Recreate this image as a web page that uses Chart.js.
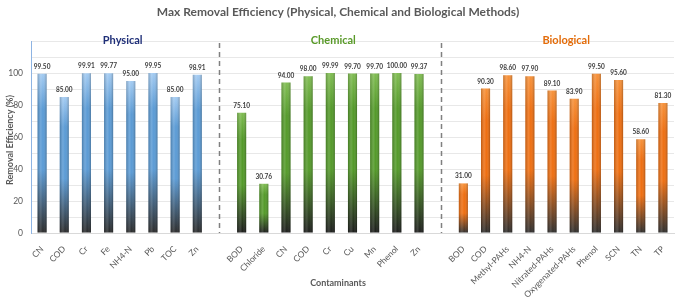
<!DOCTYPE html>
<html>
<head>
<meta charset="utf-8">
<script src="https://cdn.jsdelivr.net/npm/chart.js@4"></script>
<style>
  html, body { margin: 0; padding: 0; background: #fff; }
  #wrap { width: 676px; height: 297px; }
</style>
</head>
<body>
<div id="wrap"><canvas id="chart" width="676" height="297"></canvas></div>
<script>
// ---------------------------------------------------------------
// Data
// ---------------------------------------------------------------
const physicalLabels = ['CN', 'COD', 'Cr', 'Fe', 'NH4-N', 'Pb', 'TOC', 'Zn'];
const physicalValues = [99.50, 85.00, 99.91, 99.77, 95.00, 99.95, 85.00, 98.91];

const chemicalLabels = ['BOD', 'Chloride', 'CN', 'COD', 'Cr', 'Cu', 'Mn', 'Phenol', 'Zn'];
const chemicalValues = [75.10, 30.76, 94.00, 98.00, 99.99, 99.70, 99.70, 100.00, 99.37];

const biologicalLabels = ['BOD', 'COD', 'Methyl-PAHs', 'NH4-N', 'Nitrated-PAHs', 'Oxygenated-PAHs', 'Phenol', 'SCN', 'TN', 'TP'];
const biologicalValues = [31.00, 90.30, 98.60, 97.90, 89.10, 83.90, 99.50, 95.60, 58.60, 81.30];

const groupNames = ['Physical', 'Chemical', 'Biological'];
const yTicks = [0, 20, 40, 60, 80, 100];

// Colours per group: [light top, main, dark base], title colour.
const groupColors = [
  ['#a3cbf2', '#5b9bd5', '#2a2a2a'],
  ['#80bd52', '#549a2a', '#1c1c1c'],
  ['#f7923a', '#ee6f12', '#2e2e2e']
];
const groupTitleColors = ['#1f2f78', '#5a9a2a', '#e36c0a'];

// Combine the groups, with an empty slot between each group.
const labels = [];
const values = [];
const groupOf = [];
const separators = [];
[[physicalLabels, physicalValues], [chemicalLabels, chemicalValues], [biologicalLabels, biologicalValues]]
  .forEach(function (g, gi) {
    if (gi > 0) {
      separators.push(labels.length);
      labels.push('');
      values.push(null);
      groupOf.push(-1);
    }
    g[0].forEach(function (l, i) {
      labels.push(l);
      values.push(g[1][i]);
      groupOf.push(gi);
    });
  });

const FONT = 'Lato, "Open Sans", sans-serif';

function barColor(context) {
  const gi = groupOf[context.dataIndex];
  if (gi < 0) return 'transparent';
  const cols = groupColors[gi];
  const chart = context.chart;
  if (!chart.chartArea || !chart.scales.y) return cols[1];
  const ys = chart.scales.y;
  const top = ys.getPixelForValue(context.raw);
  const base = ys.getPixelForValue(0);
  const g = chart.ctx.createLinearGradient(0, top, 0, base);
  g.addColorStop(0, cols[0]);
  g.addColorStop(0.22, cols[1]);
  g.addColorStop(0.6, cols[1]);
  g.addColorStop(1, cols[2]);
  return g;
}

// ---------------------------------------------------------------
// Extra drawing: cylinder shading, value labels, separators, titles
// ---------------------------------------------------------------
const decorPlugin = {
  id: 'decor',
  afterDatasetsDraw(chart) {
    const ctx = chart.ctx;
    const meta = chart.getDatasetMeta(0);
    const xs = chart.scales.x;
    const area = chart.chartArea;

    // Horizontal shading on each bar.
    meta.data.forEach(function (bar, i) {
      if (values[i] == null) return;
      const w = bar.width;
      const left = bar.x - w / 2;
      const g = ctx.createLinearGradient(left, 0, left + w, 0);
      g.addColorStop(0, 'rgba(0,0,0,0.2)');
      g.addColorStop(0.35, 'rgba(255,255,255,0.14)');
      g.addColorStop(0.6, 'rgba(255,255,255,0)');
      g.addColorStop(1, 'rgba(0,0,0,0.25)');
      ctx.fillStyle = g;
      ctx.fillRect(left, bar.y, w, bar.base - bar.y);
    });

    // Value labels.
    ctx.save();
    ctx.font = 'bold 6.5px ' + FONT;
    ctx.fillStyle = '#404040';
    ctx.textAlign = 'center';
    ctx.textBaseline = 'middle';
    meta.data.forEach(function (bar, i) {
      if (values[i] == null) return;
      ctx.fillText(values[i].toFixed(2), bar.x, bar.y - 7);
    });
    ctx.restore();

    // Dashed separators.
    ctx.save();
    ctx.strokeStyle = '#808080';
    ctx.lineWidth = 1.5;
    ctx.setLineDash([5, 4]);
    separators.forEach(function (s) {
      const x = Math.round(xs.getPixelForValue(s)) + 0.5;
      ctx.beginPath();
      ctx.moveTo(x, area.top + 2);
      ctx.lineTo(x, area.bottom);
      ctx.stroke();
    });
    ctx.restore();

    // Group titles.
    ctx.save();
    ctx.font = 'bold 11px ' + FONT;
    ctx.textAlign = 'center';
    ctx.textBaseline = 'middle';
    groupNames.forEach(function (name, gi) {
      const first = groupOf.indexOf(gi);
      const last = groupOf.lastIndexOf(gi);
      const cx = (xs.getPixelForValue(first) + xs.getPixelForValue(last)) / 2 + 3;
      ctx.fillStyle = groupTitleColors[gi];
      ctx.fillText(name, cx, 40);
    });
    ctx.restore();

    // Main title and axis titles.
    ctx.save();
    ctx.fillStyle = '#595959';
    ctx.textAlign = 'center';
    ctx.textBaseline = 'middle';
    ctx.font = 'bold 12px ' + FONT;
    ctx.fillText('Max Removal Efficiency (Physical, Chemical and Biological Methods)', 338, 12);
    ctx.font = 'bold 9px ' + FONT;
    ctx.fillText('Contaminants', 338, 283);
    ctx.translate(10, 140);
    ctx.rotate(-Math.PI / 2);
    ctx.fillText('Removal Efficiency (%)', 0, 0);
    ctx.restore();
  }
};

new Chart(document.getElementById('chart'), {
  type: 'bar',
  data: {
    labels: labels,
    datasets: [{
      data: values,
      backgroundColor: barColor,
      borderWidth: 0,
      barPercentage: 0.82,
      categoryPercentage: 0.5
    }]
  },
  options: {
    responsive: false,
    animation: false,
    devicePixelRatio: 1,
    layout: { padding: { top: 41, right: 2, left: 0, bottom: 0 } },
    plugins: {
      legend: { display: false },
      title: { display: false },
      tooltip: { enabled: false }
    },
    scales: {
      x: {
        grid: { display: false },
        border: { color: '#d9d9d9' },
        ticks: {
          color: '#595959',
          font: { family: FONT, size: 8.5 },
          minRotation: 45,
          maxRotation: 45,
          autoSkip: false,
          padding: 3
        },
        afterFit: function (scale) { scale.height = 64; }
      },
      y: {
        min: 0,
        max: 120,
        grid: { color: '#e8e8e8', drawTicks: false },
        border: { color: '#8eb4e3', width: 1 },
        ticks: {
          stepSize: 5,
          color: '#595959',
          font: { family: FONT, size: 8.5 },
          padding: 8,
          callback: function (v) { return (yTicks.indexOf(v) >= 0) ? String(v) : ''; }
        },
        afterFit: function (scale) { scale.width = 31; }
      }
    }
  },
  plugins: [decorPlugin]
});
</script>
</body>
</html>
